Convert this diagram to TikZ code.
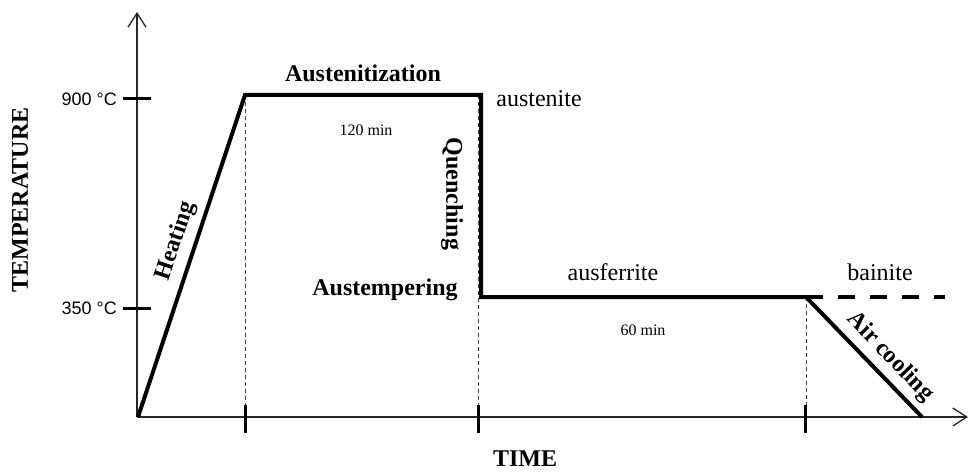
\documentclass[tikz,border=0pt]{standalone}
\usepackage{fontspec}
\setmainfont{Liberation Serif}
\newfontfamily\sansf{Liberation Sans}
\usetikzlibrary{arrows.meta}
\begin{document}
\begin{tikzpicture}[x=1pt,y=-1pt,
  axis/.style={line width=1.3pt, draw=black!85},
  curve/.style={line width=4pt, line join=miter},
  guide/.style={line width=0.9pt, dash pattern=on 4pt off 3pt, draw=black!75},
  tickmark/.style={line width=3pt},
  big/.style={font=\fontsize{24}{28}\selectfont},
  bigb/.style={font=\fontsize{24}{28}\selectfont\bfseries},
  small/.style={font=\fontsize{16}{19}\selectfont},
  tlab/.style={font=\sansf\fontsize{18}{21}\selectfont, anchor=east},
  every node/.style={inner sep=0pt}]
\useasboundingbox (0,0) rectangle (972,473);
% key points
\coordinate (O) at (138,417);
\coordinate (A) at (245,95);
\coordinate (B) at (481,95);
\coordinate (C) at (481,297);
\coordinate (D) at (806,297);
\coordinate (E) at (922,417);
\coordinate (F) at (945,297);
\coordinate (Ytop) at (137,12);
\coordinate (Xend) at (968,417);
\coordinate (Q) at (478,95);
% axes
\draw[axis, -{Straight Barb[length=14pt,width=18pt]}] (137,417) -- (Ytop);
\draw[axis, -{Straight Barb[length=14pt,width=18pt]}] (137,417) -- (Xend);
% temperature ticks
\coordinate (T9a) at (123,99); \coordinate (T9b) at (151,99);
\coordinate (T3a) at (123,308); \coordinate (T3b) at (151,308);
\draw[tickmark] (T9a) -- (T9b);
\draw[tickmark] (T3a) -- (T3b);
\node[tlab] (t900) at (117,99) {900 °C};
\node[tlab] (t350) at (117,308) {350 °C};
% guides
\draw[guide] (A) -- (A |- O);
\draw[guide] (Q) -- (Q |- O);
\draw[guide] (D) -- (D |- O);
% time ticks
\draw[tickmark] (245,405) -- (245,433);
\draw[tickmark] (478,405) -- (478,433);
\draw[tickmark] (805,405) -- (805,433);
% process curve
\draw[curve] (O) -- (A) -- (B) -- (C) -- (D) -- (E);
\draw[curve, dash pattern=on 17pt off 15pt] (D) -- (F);
% labels
\node[bigb] (aust) at (363,73) {Austenitization};
\node[small] (m120) at (366,130) {120 min};
\node[big] (ausn) at (539,99) {austenite};
\node[bigb, rotate=-90] (quen) at (452,194) {Quenching};
\node[bigb] (atmp) at (385,290) {Austempering};
\node[big] (ausf) at (613,272) {ausferrite};
\node[small] (m60) at (643,330) {60 min};
\node[big] (bain) at (880,272) {bainite};
\node[bigb, rotate=71.8] (heat) at (176,241) {Heating};
\node[bigb, rotate=-46] (airc) at (890,357) {Air cooling};
\node[bigb, rotate=90] (temp) at (20,200) {TEMPERATURE};
\node[bigb] (time) at (525,459) {TIME};
\end{tikzpicture}
\end{document}
